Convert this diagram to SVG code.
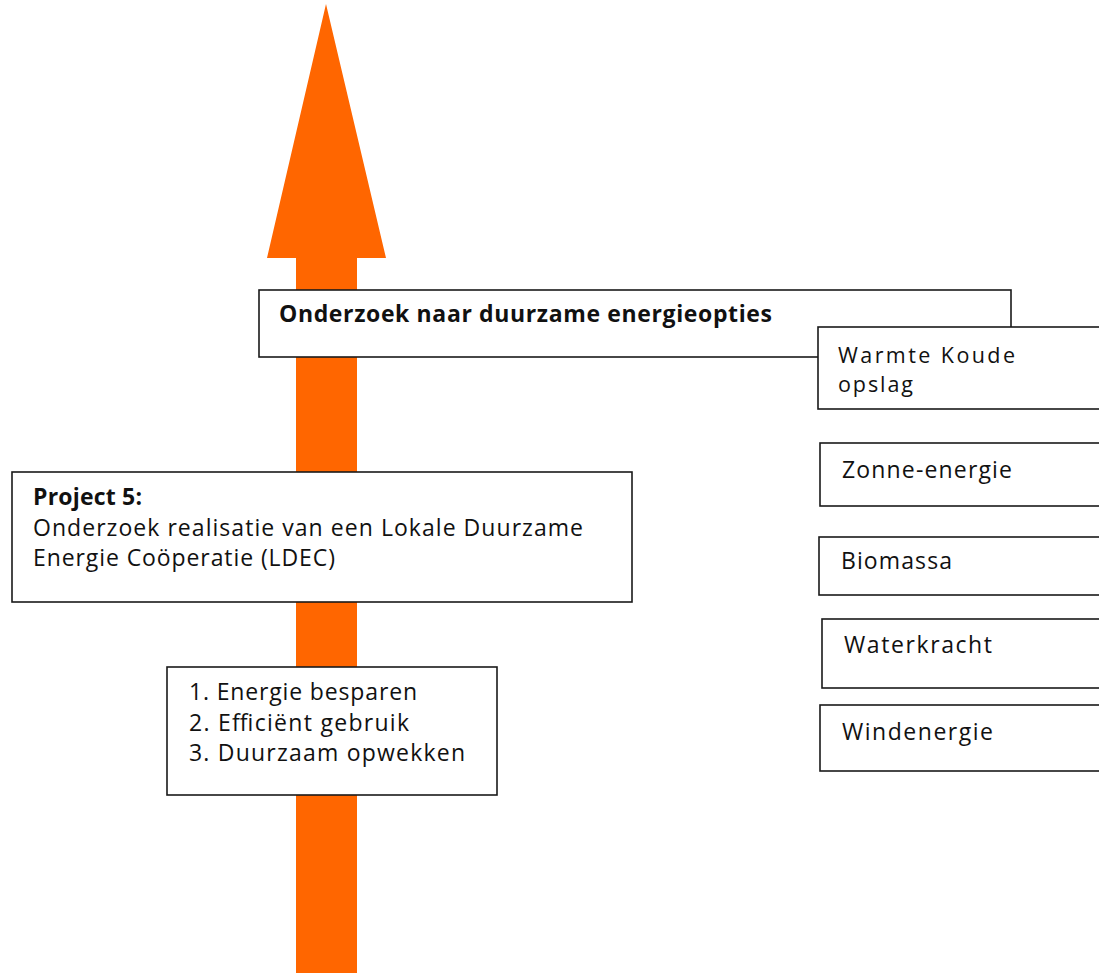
<svg xmlns="http://www.w3.org/2000/svg" width="1099" height="973" viewBox="0 0 1099 973">
<style>
.box{fill:#fff;stroke:#1a1a1a;stroke-width:1.6}
.t{font-family:"Open Sans","Noto Sans",sans-serif;font-size:23px;fill:#111}
.s{font-size:21.5px}
.b{font-weight:bold}
</style>
<rect width="1099" height="973" fill="#fff"/>
<g id="connectors">
<polygon points="326,4 386,258 357,258 357,973 296,973 296,258 267,258" fill="#ff6600"/>
</g>
<g id="node-onderzoek">
<rect class="box" x="259" y="290" width="752" height="67"/>
<text class="t b" x="279" y="322" textLength="493" lengthAdjust="spacing">Onderzoek naar duurzame energieopties</text>
</g>
<g id="node-warmte">
<rect class="box" x="818" y="327" width="300" height="82"/>
<text class="t s" x="838" y="363" textLength="177" lengthAdjust="spacing">Warmte Koude</text>
<text class="t s" x="838" y="392" textLength="75" lengthAdjust="spacing">opslag</text>
</g>
<g id="node-zonne">
<rect class="box" x="820" y="443" width="300" height="63"/>
<text class="t" x="842" y="478" textLength="170" lengthAdjust="spacing">Zonne-energie</text>
</g>
<g id="node-biomassa">
<rect class="box" x="819" y="537" width="300" height="58"/>
<text class="t" x="841" y="569" textLength="111" lengthAdjust="spacing">Biomassa</text>
</g>
<g id="node-waterkracht">
<rect class="box" x="822" y="619" width="300" height="69"/>
<text class="t" x="844" y="653" textLength="148" lengthAdjust="spacing">Waterkracht</text>
</g>
<g id="node-windenergie">
<rect class="box" x="820" y="705" width="300" height="66"/>
<text class="t" x="842" y="740" textLength="151" lengthAdjust="spacing">Windenergie</text>
</g>
<g id="node-project5">
<rect class="box" x="12" y="472" width="620" height="130"/>
<text class="t b" x="33" y="505" textLength="109" lengthAdjust="spacing">Project 5:</text>
<text class="t" x="33" y="536" textLength="550" lengthAdjust="spacing">Onderzoek realisatie van een Lokale Duurzame</text>
<text class="t" x="33" y="566" textLength="302" lengthAdjust="spacing">Energie Coöperatie (LDEC)</text>
</g>
<g id="node-stappen">
<rect class="box" x="167" y="667" width="330" height="128"/>
<text class="t" x="189" y="700" textLength="228" lengthAdjust="spacing">1. Energie besparen</text>
<text class="t" x="189" y="731" textLength="220" lengthAdjust="spacing">2. Efficiënt gebruik</text>
<text class="t" x="189" y="761" textLength="276" lengthAdjust="spacing">3. Duurzaam opwekken</text>
</g>
</svg>
